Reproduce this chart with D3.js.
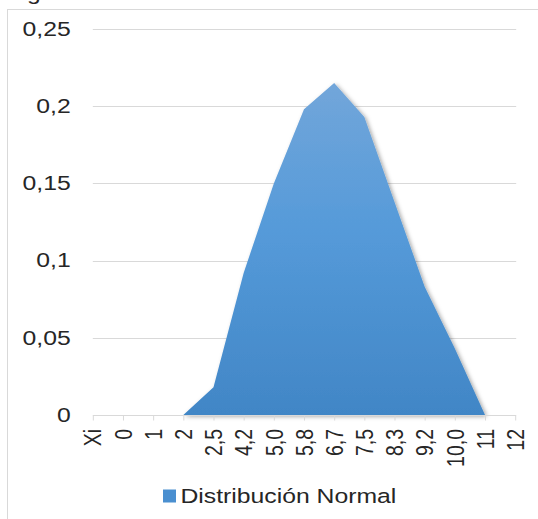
<!DOCTYPE html>
<html><head><meta charset="utf-8">
<script src="https://cdn.jsdelivr.net/npm/d3@7"></script>
<style>
html,body{margin:0;padding:0;background:#fff;}
svg{display:block;}
text{font-family:"Liberation Sans",Arial,sans-serif;fill:#262626;}
</style></head>
<body>
<script>
const categories = ["Xi","0","1","2","2,5","4,2","5,0","5,8","6,7","7,5","8,3","9,2","10,0","11","12"];
const values = [0,0,0,0,0.018,0.092,0.150,0.198,0.215,0.193,0.138,0.083,0.043,0,0];
const yTicks = [0,0.05,0.1,0.15,0.2,0.25];
const seriesName = "Distribución Normal";

const W=538,H=519;
const SX=1.27; // horizontal stretch of text in the reference
const FS=19.5;
const svg=d3.select("body").append("svg").attr("width",W).attr("height",H);

const defs=svg.append("defs");
const grad=defs.append("linearGradient").attr("id","g1").attr("x1",0).attr("y1",0).attr("x2",0).attr("y2",1);
grad.append("stop").attr("offset","0%").attr("stop-color","#72a6da");
grad.append("stop").attr("offset","45%").attr("stop-color","#559ad9");
grad.append("stop").attr("offset","100%").attr("stop-color","#4186c6");
const f=defs.append("filter").attr("id","sh").attr("x","-10%").attr("y","-10%").attr("width","130%").attr("height","130%");
f.append("feDropShadow").attr("dx",2).attr("dy",1.5).attr("stdDeviation",2).attr("flood-color","#000").attr("flood-opacity",0.35);

// frame
svg.append("rect").attr("x",7.5).attr("y",9.5).attr("width",W+20).attr("height",H+20)
  .attr("fill","none").attr("stroke","#d9d9d9").attr("stroke-width",1);

// stray cropped title glyph
svg.append("text").attr("transform",`translate(27,0) scale(${SX},1)`).attr("font-size",FS).text("g");

const x=d3.scalePoint().domain(categories).range([92.8,515.2]).padding(0);
const y=d3.scaleLinear().domain([0,0.25]).range([415,29]);

// gridlines
svg.append("g").selectAll("line").data(yTicks.filter(d=>d>0)).join("line")
  .attr("x1",x.range()[0]).attr("x2",x.range()[1]+1)
  .attr("y1",d=>Math.round(y(d))+0.5).attr("y2",d=>Math.round(y(d))+0.5)
  .attr("stroke","#d9d9d9").attr("stroke-width",1);

// area
const area=d3.area().x((d,i)=>x(categories[i])).y0(y(0)).y1(d=>y(d));
svg.append("path").datum(values).attr("d",area).attr("fill","url(#g1)").attr("filter","url(#sh)");

// x axis
const xa=svg.append("g").attr("transform",`translate(0,${Math.round(y(0))+0.5})`)
  .call(d3.axisBottom(x).tickSize(5).tickFormat(""));
xa.select(".domain").attr("stroke","#d9d9d9").attr("d",`M${x.range()[0]},0H${x.range()[1]+1}`);
xa.selectAll(".tick line").attr("stroke","#d9d9d9");

svg.append("g").selectAll("text").data(categories).join("text")
  .attr("transform",d=>`translate(${x(d)},429) scale(${SX},1) rotate(-90)`)
  .attr("text-anchor","end").attr("dy","0.35em").attr("font-size",FS).text(d=>d);

// y labels
const fmt=d=>String(d).replace(".",",");
svg.append("g").selectAll("text").data(yTicks).join("text")
  .attr("transform",d=>`translate(70.7,${y(d)}) scale(${SX},1)`)
  .attr("text-anchor","end").attr("dy","0.35em").attr("font-size",FS).text(fmt);

// legend
svg.append("rect").attr("x",163).attr("y",489.5).attr("width",13).attr("height",13).attr("fill","#4a8fd0");
svg.append("text").attr("transform",`translate(180.5,496) scale(${SX},1)`)
  .attr("dy","0.35em").attr("font-size",FS).text(seriesName);
</script>
</body></html>
